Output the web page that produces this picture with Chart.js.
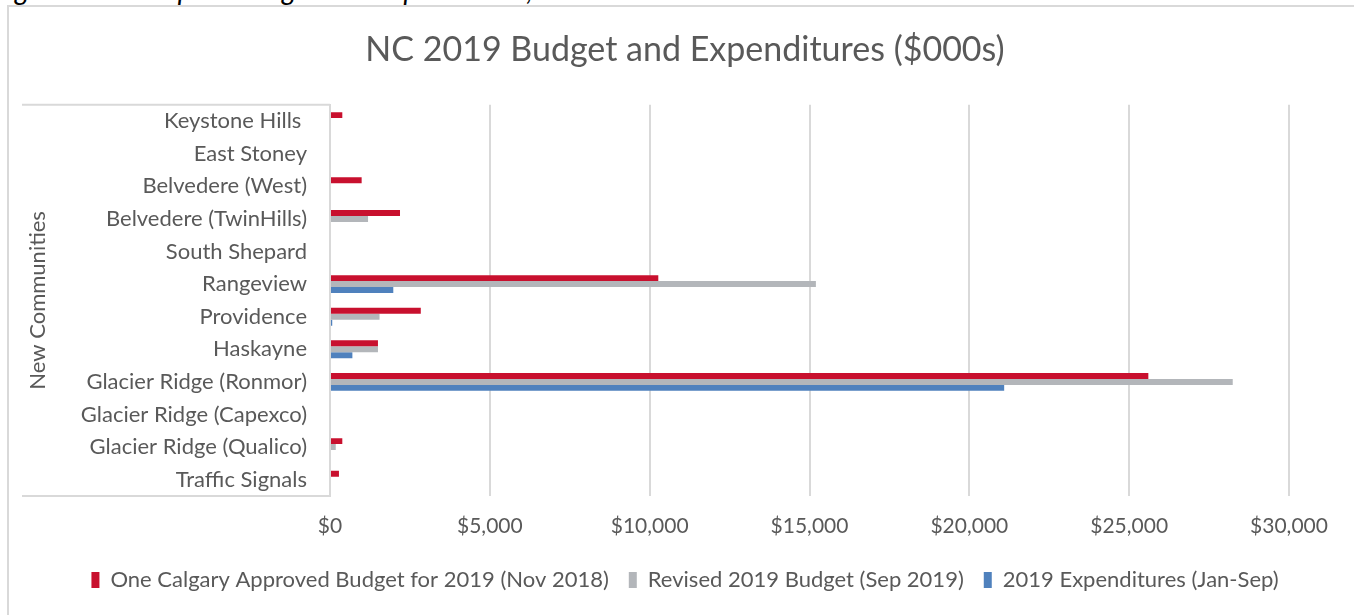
<!DOCTYPE html>
<html>
<head>
<meta charset="utf-8">
<script src="https://cdn.jsdelivr.net/npm/chart.js@4"></script>
<style>
    html, body {
        margin: 0;
        width: 1354px;
        height: 615px;
        overflow: hidden;
        background: #ffffff;
        position: relative;
    }

    .caption {
        position: absolute;
        left: -6px;
        top: -27px;
        font: italic 28px Lato, sans-serif;
        line-height: 1.2;
        color: #000000;
        white-space: nowrap;
    }

    .frame {
        position: absolute;
        left: 7px;
        top: 5px;
        width: 1400px;
        height: 700px;
        border: 2px solid #d9d9d9;
    }

    .wrap {
        position: absolute;
        left: 8px;
        top: 0;
        width: 1354px;
        height: 615px;
    }
</style>
</head>
<body>

<div class="caption">Figure 3: NC Capital Budget and Expenditures, New Communities</div>
<div class="frame"></div>

<div class="wrap">
    <canvas id="ncChart"></canvas>
</div>

<script>

const comunidades = [
    'Keystone Hills ',
    'East Stoney',
    'Belvedere (West)',
    'Belvedere (TwinHills)',
    'South Shepard',
    'Rangeview',
    'Providence',
    'Haskayne',
    'Glacier Ridge (Ronmor)',
    'Glacier Ridge (Capexco)',
    'Glacier Ridge (Qualico)',
    'Traffic Signals'
];

const presupuestoAprobado =
    [385, 0, 990, 2190, 0, 10270, 2840, 1500, 25600, 0, 385, 280];

const presupuestoRevisado =
    [0, 0, 0, 1190, 0, 15200, 1550, 1500, 28240, 0, 180, 0];

const gastos =
    [0, 0, 0, 0, 0, 1980, 70, 700, 21090, 0, 0, 0];

const ticksX = [0, 5000, 10000, 15000, 20000, 25000, 30000];

const series = [
    'One Calgary Approved Budget for 2019 (Nov 2018)',
    'Revised 2019 Budget (Sep 2019)',
    '2019 Expenditures (Jan-Sep)'
];

const texto = '#595959';
const lineaGris = '#d9d9d9';

// marco del eje de categorias (lineas arriba y abajo)
const cajaCategorias = {

    id: 'cajaCategorias',

    afterDraw(chart) {

        const ctx = chart.ctx;
        const area = chart.chartArea;
        const y = chart.scales.y;

        ctx.save();
        ctx.strokeStyle = lineaGris;
        ctx.lineWidth = 2;

        ctx.beginPath();
        ctx.moveTo(y.left, area.top);
        ctx.lineTo(area.left, area.top);
        ctx.moveTo(y.left, area.bottom);
        ctx.lineTo(area.left, area.bottom);
        ctx.stroke();

        ctx.restore();
    }
};

new Chart(

    document.getElementById(
        'ncChart'
    ),

    {
        type: 'bar',

        data: {

            labels: comunidades,

            datasets: [
                {
                    label: series[0],
                    data: presupuestoAprobado,
                    backgroundColor: '#c8102e',
                    borderWidth: 0
                },
                {
                    label: series[1],
                    data: presupuestoRevisado,
                    backgroundColor: '#b3b6ba',
                    borderWidth: 0
                },
                {
                    label: series[2],
                    data: gastos,
                    backgroundColor: '#4f81bd',
                    borderWidth: 0
                }
            ]
        },

        options: {

            indexAxis: 'y',

            responsive: true,
            maintainAspectRatio: false,
            animation: false,

            categoryPercentage: 0.55,
            barPercentage: 1.0,

            layout: {
                padding: {
                    left: 14,
                    right: 14,
                    top: 0,
                    bottom: 14
                }
            },

            scales: {

                x: {
                    min: 0,
                    max: 30000,

                    afterBuildTicks: scale => {
                        scale.ticks = ticksX.map(v => ({ value: v }));
                    },

                    afterFit: scale => {
                        scale.height = 53;
                    },

                    grid: {
                        color: lineaGris,
                        lineWidth: 2,
                        drawTicks: false
                    },

                    border: {
                        display: false
                    },

                    ticks: {
                        padding: 18,
                        color: texto,
                        font: {
                            family: 'Lato',
                            size: 21
                        },
                        callback: v => '$' + v.toLocaleString('en-US')
                    }
                },

                y: {

                    afterFit: scale => {
                        scale.width = 308;
                    },

                    grid: {
                        display: false,
                        drawTicks: false
                    },

                    border: {
                        display: true,
                        color: lineaGris,
                        width: 2
                    },

                    ticks: {
                        padding: 23,
                        color: texto,
                        font: {
                            family: 'Lato',
                            size: 22
                        }
                    },

                    title: {
                        display: true,
                        text: 'New Communities',
                        color: texto,
                        padding: 3,
                        font: {
                            family: 'Lato',
                            size: 22
                        }
                    }
                },

                // espacio vacio a la derecha del area de barras
                margenDer: {
                    type: 'category',
                    axis: 'y',
                    position: 'right',
                    labels: comunidades,

                    afterFit: scale => {
                        scale.width = 59;
                    },

                    grid: {
                        display: false,
                        drawTicks: false
                    },

                    border: {
                        display: false
                    },

                    ticks: {
                        display: false
                    }
                }
            },

            plugins: {

                title: {
                    display: true,
                    text: 'NC 2019 Budget and Expenditures ($000s)',
                    color: texto,
                    padding: {
                        top: 30,
                        bottom: 34
                    },
                    font: {
                        family: 'Lato',
                        size: 34,
                        weight: 'normal'
                    }
                },

                legend: {
                    position: 'bottom',
                    labels: {
                        boxWidth: 8,
                        boxHeight: 16,
                        padding: 20,
                        color: texto,
                        font: {
                            family: 'Lato',
                            size: 22
                        }
                    }
                },

                tooltip: {
                    enabled: false
                }
            }
        },

        plugins: [cajaCategorias]
    }
);

</script>
</body>
</html>
